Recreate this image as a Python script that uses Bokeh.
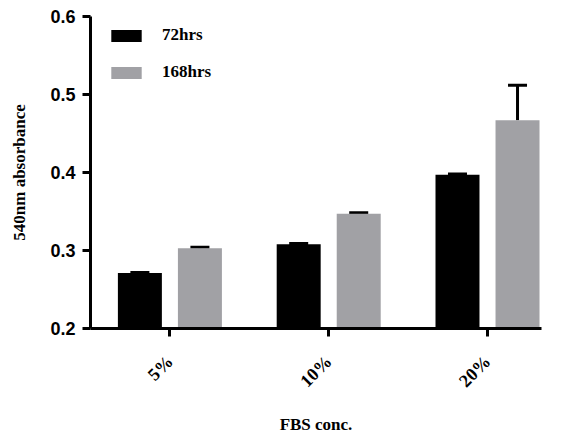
import math
from bokeh.plotting import figure
from bokeh.models import (Range1d, FixedTicker, Legend, LegendItem, Whisker,
                          TeeHead, ColumnDataSource, NumeralTickFormatter)
from bokeh.transform import dodge
from bokeh.embed import file_html
from bokeh.resources import INLINE

# ---- data ----
categories = ["5%", "10%", "20%"]
series = ["72hrs", "168hrs"]
mean_72 = [0.271, 0.308, 0.397]
err_72 = [0.0008, 0.001, 0.0012]
mean_168 = [0.303, 0.347, 0.467]
err_168 = [0.0012, 0.0015, 0.045]
y_ticks = [0.2, 0.3, 0.4, 0.5, 0.6]

xs = [i + 1 for i in range(len(categories))]
src = ColumnDataSource(dict(
    x=xs,
    m72=mean_72, u72=[m + e for m, e in zip(mean_72, err_72)],
    m168=mean_168, u168=[m + e for m, e in zip(mean_168, err_168)],
))

p = figure(width=563, height=437, output_backend="svg", toolbar_location=None,
           x_range=Range1d(0.5, 3.34), y_range=Range1d(0.2, 0.6),
           min_border_left=90, min_border_right=22, min_border_top=16,
           min_border_bottom=109)
p.outline_line_color = None
p.xgrid.visible = False
p.ygrid.visible = False
p.background_fill_color = "white"
p.border_fill_color = "white"

off = 0.189
bw = 0.277
r1 = p.vbar(x=dodge("x", -off, range=p.x_range), top="m72", bottom=0, width=bw,
            source=src, fill_color="#000000", line_color=None)
r2 = p.vbar(x=dodge("x", off, range=p.x_range), top="m168", bottom=0, width=bw,
            source=src, fill_color="#a1a1a5", line_color=None)

for xo, lo, up in [(-off, "m72", "u72"), (off, "m168", "u168")]:
    w = Whisker(source=src, base=dodge("x", xo, range=p.x_range), lower=lo, upper=up,
                lower_head=None,
                upper_head=TeeHead(size=19, line_width=3, line_color="black"),
                line_width=3, line_color="black")
    p.add_layout(w)

serif = "Liberation Serif"
sans = "Liberation Sans"

for ax in (p.xaxis[0], p.yaxis[0]):
    ax.axis_line_width = 3
    ax.axis_line_color = "black"
    ax.major_tick_line_width = 3
    ax.major_tick_line_color = "black"
    ax.major_tick_out = 8
    ax.major_tick_in = 0
    ax.minor_tick_line_color = None
    ax.axis_label_text_font = serif
    ax.axis_label_text_font_style = "bold"
    ax.axis_label_text_font_size = "17px"
    ax.axis_label_text_color = "black"

xa = p.xaxis[0]
xa.ticker = FixedTicker(ticks=xs)
xa.major_label_overrides = {x: c for x, c in zip(xs, categories)}
xa.major_label_orientation = math.pi / 4
xa.major_label_text_font = serif
xa.major_label_text_font_style = "bold"
xa.major_label_text_font_size = "18px"
xa.major_label_text_color = "black"
xa.major_label_standoff = 22
xa.axis_label = "FBS conc."
xa.axis_label_standoff = 14

ya = p.yaxis[0]
ya.ticker = FixedTicker(ticks=y_ticks)
ya.formatter = NumeralTickFormatter(format="0.0")
ya.major_label_text_font = sans
ya.major_label_text_font_style = "bold"
ya.major_label_text_font_size = "18px"
ya.major_label_text_color = "black"
ya.major_label_standoff = 7
ya.axis_label = "540nm absorbance"
ya.axis_label_standoff = 18

legend = Legend(items=[LegendItem(label=series[0], renderers=[r1]),
                       LegendItem(label=series[1], renderers=[r2])],
                location=(17, 246), orientation="vertical")
legend.glyph_width = 38
legend.glyph_height = 15
legend.label_height = 15
legend.spacing = 17
legend.padding = 0
legend.margin = 0
legend.label_standoff = 17
legend.border_line_color = None
legend.background_fill_alpha = 0
legend.label_text_font = serif
legend.label_text_font_style = "bold"
legend.label_text_font_size = "17px"
legend.label_text_color = "black"
p.add_layout(legend)

open("out.html", "w").write(file_html(p, INLINE))
